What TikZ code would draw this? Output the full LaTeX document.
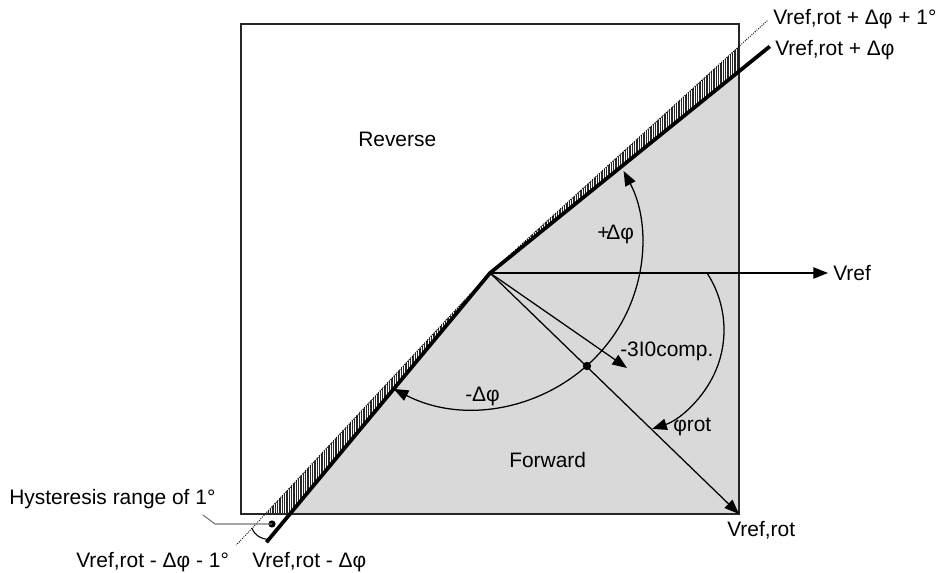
\documentclass[tikz,border=0pt]{standalone}
\usepackage{fontspec}
\setmainfont{Liberation Sans}
\usetikzlibrary{arrows.meta,patterns.meta,calc}
\begin{document}
\begin{tikzpicture}[x=0.75pt,y=0.75pt,
  lbl/.style={anchor=base west,inner sep=0pt,font=\fontsize{15.7}{18}\selectfont},
  boxln/.style={line width=1.3pt,draw=black!85},
  thinln/.style={line width=0.95pt},
  thickln/.style={line width=2.8pt},
  dotln/.style={densely dotted,line width=0.7pt},
  hatchfill/.style={pattern={Lines[angle=90,distance=1.75pt,line width=0.85pt]},pattern color=black!85},
  >={Triangle[length=11pt,width=8.5pt]}
]
\useasboundingbox (0,0) rectangle (943,573);
\coordinate (apex) at (490,300);
\coordinate (bl) at (241,59);
\coordinate (tr) at (739,549);
\coordinate (br) at (739,59);
\coordinate (upthick) at ($(apex)+(39:360)$);
\coordinate (lothick) at ($(apex)+(230.3:350)$);
\coordinate (updot) at ($(apex)+(42.3:375)$);
\coordinate (lodot) at ($(apex)+(227:372)$);
\coordinate (vreftip) at (828,300);
\coordinate (comptip) at (627,205);
\coordinate (dot) at (587,207);
\coordinate (bigc) at (473,328);
\coordinate (rotc) at (620,243);

% fills
\begin{scope}
  \clip (bl) rectangle (tr);
  \fill[black!15] (apex) -- ($(apex)+(39:500)$) -- (1100,-300) -- ($(apex)+(230.3:500)$) -- cycle;
  \fill[hatchfill] (apex) -- ($(apex)+(39:500)$) -- ($(apex)+(42.3:500)$) -- cycle;
  \fill[hatchfill] (apex) -- ($(apex)+(230.3:500)$) -- ($(apex)+(227:500)$) -- cycle;
\end{scope}
\draw[boxln] (bl) rectangle (tr);

% dotted boundary lines
\draw[dotln] (apex) -- (updot);
\draw[dotln] (apex) -- (lodot);

% vectors
\draw[thinln,->] (apex) -- (vreftip);
\draw[thinln,->] (apex) -- (br);
\draw[thinln,->] (apex) -- (comptip);

% big arc +/- delta phi
\draw[thinln,<->] (bigc) ++(-118:169 and 163) arc[start angle=-118,end angle=27,x radius=169,y radius=163];
% phi rot arc
\draw[thinln,->] (rotc) ++(33:104) arc[start angle=33,end angle=-72,radius=104];

% thick boundary lines
\draw[thickln] (lothick) -- (apex) -- (upthick);

\fill (dot) circle (4.2);

% hysteresis marker
\coordinate (hdot) at (272,49);
\coordinate (ha) at ($(apex)+(227:349)$);
\coordinate (hb) at ($(apex)+(230.3:346)$);
\draw[line width=0.8pt] (ha) to[bend right=35] (hb);
\fill (hdot) circle (3.6);
\draw[line width=0.8pt,black!55] (203,58) -- (215,49) -- (hdot);

% labels
\node[lbl] (rev) at (358,426) {Reverse};
\node[lbl] (fwd) at (509,105) {Forward};
\node[lbl] (pdp) at (597,333) {+$\!$Δφ};
\node[lbl] (mdp) at (465,171) {-Δφ};
\node[lbl] (vref) at (833,292) {Vref};
\node[lbl] (comp) at (620,216) {-3I0comp.};
\node[lbl] (prot) at (673,141) {φrot};
\node[lbl] (vrot) at (727,36) {Vref,rot};
\node[lbl] (up1) at (773,548) {Vref,rot + Δφ + 1°};
\node[lbl] (up0) at (775,517) {Vref,rot + Δφ};
\node[lbl] (hyst) at (9,68) {Hysteresis range of 1°};
\node[lbl] (lo1) at (76,5) {Vref,rot - Δφ - 1°};
\node[lbl] (lo0) at (252,5) {Vref,rot - Δφ};
\end{tikzpicture}
\end{document}
